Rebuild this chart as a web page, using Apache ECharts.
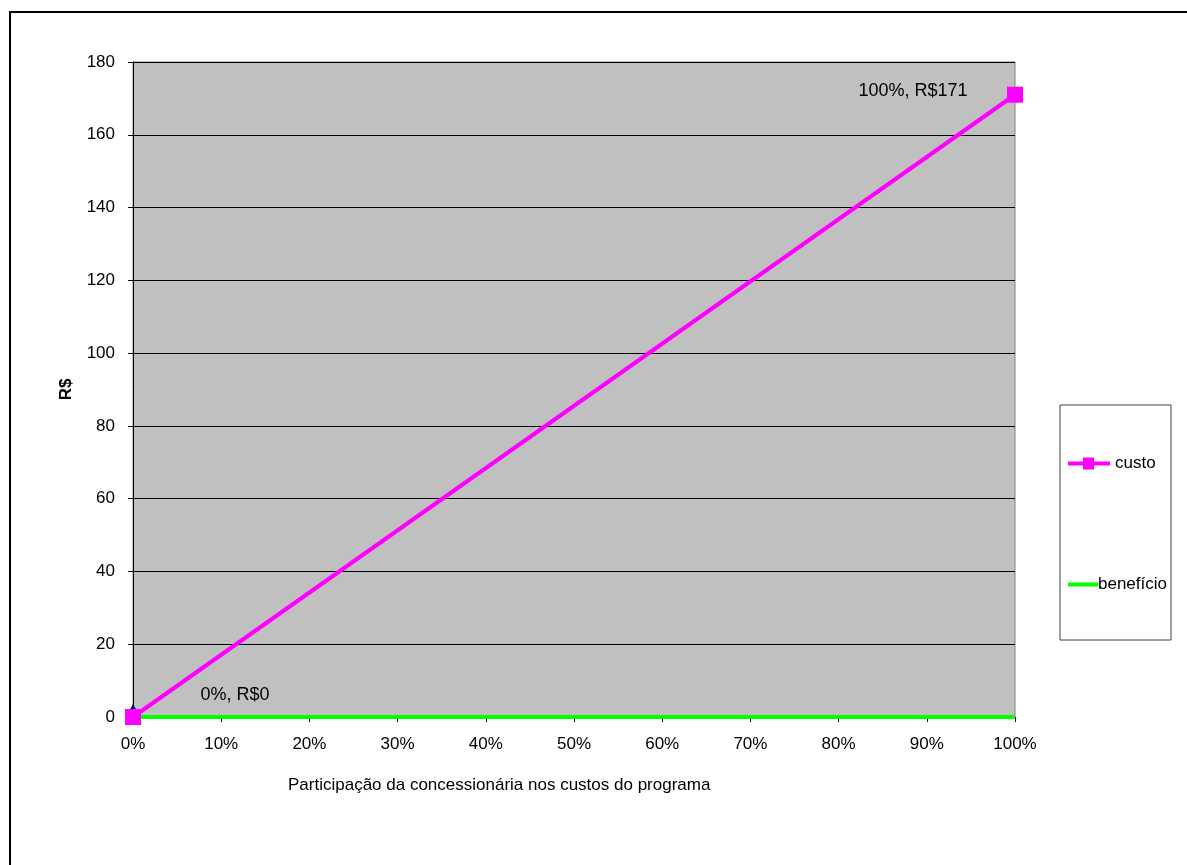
<!DOCTYPE html>
<html>
<head>
<meta charset="utf-8">
<script src="https://cdn.jsdelivr.net/npm/echarts@6/dist/echarts.min.js"></script>
<style>
  html, body { margin: 0; padding: 0; background: #fff; }
  #chart { width: 1187px; height: 865px; }
</style>
</head>
<body>
<div id="chart"></div>
<script>
// Share of the program's cost borne by the utility (fraction 0..1)
const participacao = [0, 1];
// Cost to the utility (R$) at each share
const custo = [0, 171];
// Benefit (R$) at each share
const beneficio = [0, 0];
// Axis ticks
const yTicks = [0, 20, 40, 60, 80, 100, 120, 140, 160, 180];
const xTicks = [0, 0.1, 0.2, 0.3, 0.4, 0.5, 0.6, 0.7, 0.8, 0.9, 1];

const FONT = 'Liberation Sans, Arial, sans-serif';
const FS = 17;
const pct = v => Math.round(v * 100) + '%';

const chart = echarts.init(document.getElementById('chart'), null, { renderer: 'canvas' });

const custoData = participacao.map((x, i) => [x, custo[i]]);
const beneficioData = participacao.map((x, i) => [x, beneficio[i]]);

chart.setOption({
  animation: false,
  backgroundColor: '#ffffff',
  textStyle: { fontFamily: FONT },
  grid: {
    left: 133, top: 62, width: 882, height: 655,
    show: true, backgroundColor: '#C0C0C0',
    borderColor: '#808080', borderWidth: 1
  },
  xAxis: {
    type: 'value',
    min: xTicks[0], max: xTicks[xTicks.length - 1], interval: 0.1,
    axisLine: { show: true, onZero: false, lineStyle: { color: '#000', width: 1 } },
    axisTick: { show: true, length: 5, inside: false, lineStyle: { color: '#000' } },
    splitLine: { show: false },
    axisLabel: { formatter: pct, color: '#000', fontSize: FS, fontFamily: FONT, margin: 19 }
  },
  yAxis: {
    type: 'value',
    min: yTicks[0], max: yTicks[yTicks.length - 1], interval: 20,
    name: 'R$', nameLocation: 'middle', nameGap: 58, nameRotate: 90,
    nameTextStyle: { color: '#000', fontSize: FS, fontWeight: 'bold', fontFamily: FONT },
    axisLine: { show: true, lineStyle: { color: '#000', width: 1 } },
    axisTick: { show: true, length: 5, lineStyle: { color: '#000' } },
    splitLine: { show: true, lineStyle: { color: '#000', width: 1 } },
    axisLabel: { color: '#000', fontSize: FS, fontFamily: FONT, margin: 18 }
  },
  legend: {
    orient: 'vertical',
    left: 1060, top: 405,
    width: 111,
    padding: [50, 4, 47, 8],
    itemGap: 104,
    itemWidth: 42, itemHeight: 16,
    backgroundColor: '#ffffff',
    borderColor: '#404040', borderWidth: 1,
    textStyle: { color: '#000', fontSize: FS, fontFamily: FONT },
    data: [
      {
        name: 'custo',
        icon: 'path://M0,6 L15,6 L15,2 L26,2 L26,6 L42,6 L42,10 L26,10 L26,14 L15,14 L15,10 L0,10 Z'
      },
      {
        name: 'beneficio',
        icon: 'path://M0,0 M42,16 M0,6 L30,6 L30,10 L0,10 Z',
        textStyle: { padding: [0, 0, 0, -17] }
      }
    ],
    formatter: n => n === 'beneficio' ? 'benefício' : n
  },
  graphic: [
    {
      type: 'rect', silent: true, z: 100,
      shape: { x: 10, y: 12, width: 1200, height: 900 },
      style: { fill: 'none', stroke: '#000', lineWidth: 2 }
    },
    {
      type: 'text', left: 288, top: 777, silent: true,
      style: {
        text: 'Participação da concessionária nos custos do programa',
        fill: '#000', font: FS + 'px ' + FONT
      }
    }
  ],
  series: [
    {
      name: 'beneficio',
      type: 'line',
      data: beneficioData.map((p, i) => i === 0
        ? { value: p, symbol: 'diamond', symbolSize: [8, 14], symbolOffset: [0, -6], itemStyle: { color: '#000080' } }
        : { value: p, symbol: 'none' }),
      showSymbol: true,
      symbol: 'none',
      lineStyle: { color: '#00FF00', width: 4 },
      itemStyle: { color: '#00FF00' },
      z: 2
    },
    {
      name: 'custo',
      type: 'line',
      data: custoData,
      symbol: 'rect', symbolSize: 16,
      lineStyle: { color: '#FF00FF', width: 4 },
      itemStyle: { color: '#FF00FF' },
      z: 3,
      label: {
        show: true,
        position: 'inside',
        color: '#000', fontSize: 18, fontFamily: FONT,
        formatter: p => pct(p.value[0]) + ', R$' + p.value[1]
      },
      labelLayout: p => p.dataIndex === 0
        ? { dx: 102, dy: -22 }
        : { dx: -102, dy: -4 }
    }
  ]
});
</script>
</body>
</html>
